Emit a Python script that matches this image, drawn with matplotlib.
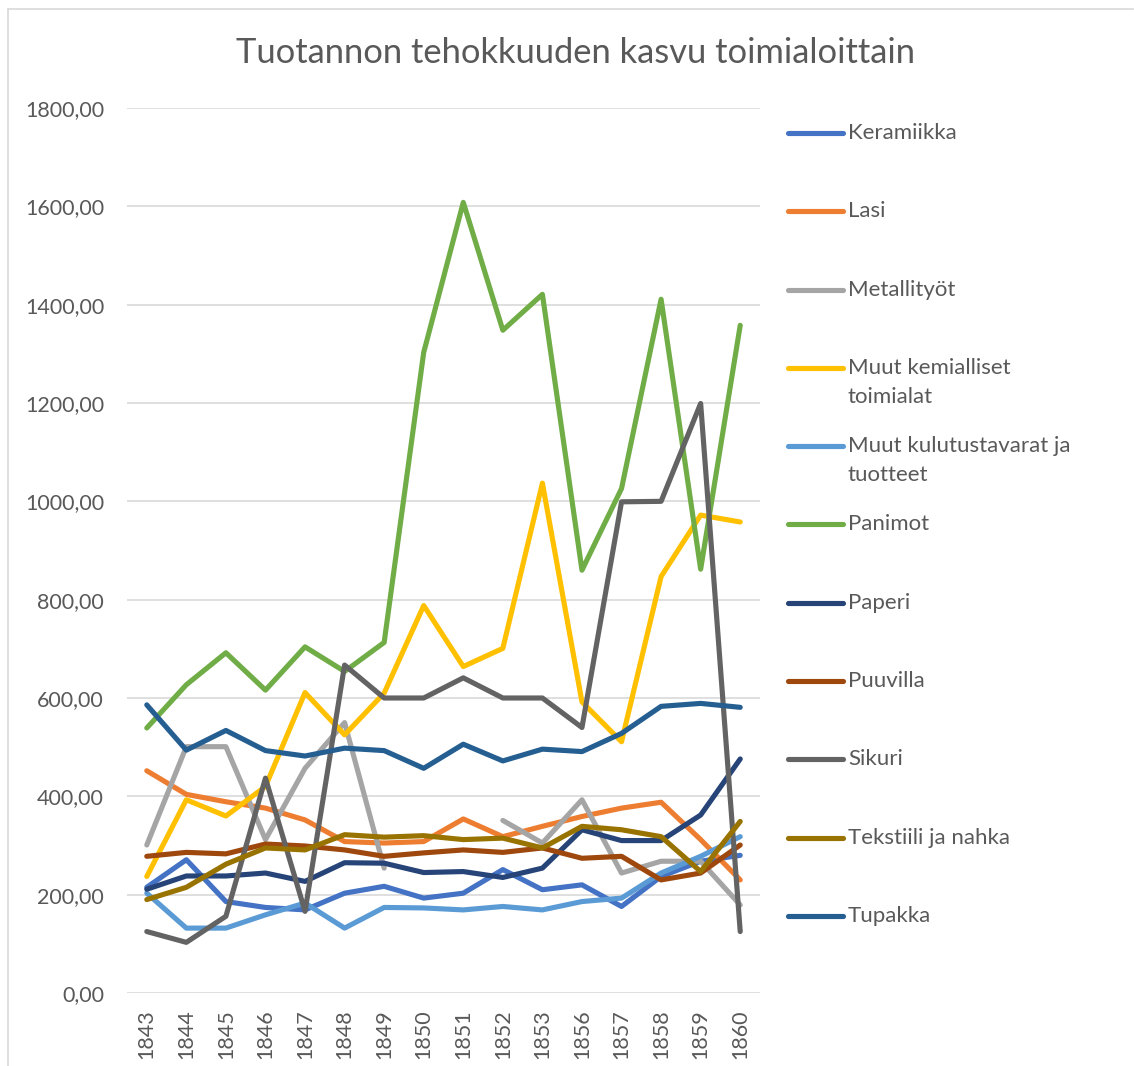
import numpy as np
import matplotlib
matplotlib.use("Agg")
import matplotlib.pyplot as plt
from matplotlib.lines import Line2D

plt.rcParams['font.family'] = ['Lato', 'DejaVu Sans']

years = ["1843", "1844", "1845", "1846", "1847", "1848", "1849", "1850",
         "1851", "1852", "1853", "1856", "1857", "1858", "1859", "1860"]

keramiikka = [215, 271, 186, 174, 169, 203, 217, 193, 203, 251, 210, 220, 176, 237, 268, 280]
lasi = [452, 404, 389, 376, 352, 308, 305, 308, 354, 318, 339, 359, 376, 388, 312, 230]
metallityot = [301, 501, 501, 312, 457, 550, 254, np.nan, np.nan, 351, 305, 393, 244, 268, 268, 179]
muut_kemialliset = [237, 393, 360, 420, 611, 525, 610, 788, 664, 701, 1037, 592, 511, 847, 972, 958]
muut_kulutustavarat = [203, 132, 132, 159, 183, 132, 174, 173, 169, 176, 169, 186, 193, 244, 278, 318]
panimot = [539, 627, 692, 616, 704, 654, 713, 1303, 1608, 1348, 1421, 860, 1026, 1411, 862, 1358]
paperi = [211, 238, 238, 244, 227, 265, 264, 245, 247, 235, 254, 332, 310, 310, 362, 476]
puuvilla = [278, 286, 283, 303, 299, 291, 278, 285, 291, 286, 295, 274, 278, 230, 244, 301]
sikuri = [125, 103, 156, 437, 166, 667, 600, 600, 641, 600, 600, 540, 999, 1000, 1199, 125]
tekstiili = [190, 215, 262, 295, 291, 322, 317, 320, 312, 315, 295, 339, 332, 318, 247, 349]
tupakka = [586, 494, 534, 493, 482, 498, 493, 457, 506, 472, 496, 491, 528, 583, 589, 581]

series_names = ["Keramiikka", "Lasi", "Metallityöt", "Muut kemialliset\ntoimialat",
                "Muut kulutustavarat ja\ntuotteet", "Panimot", "Paperi", "Puuvilla",
                "Sikuri", "Tekstiili ja nahka", "Tupakka"]
series_values = [keramiikka, lasi, metallityot, muut_kemialliset, muut_kulutustavarat,
                 panimot, paperi, puuvilla, sikuri, tekstiili, tupakka]
colors = ["#4472C4", "#ED7D31", "#A5A5A5", "#FFC000", "#5B9BD5", "#70AD47",
          "#264478", "#9E480E", "#636363", "#997300", "#255E91"]
yticks = [0, 200, 400, 600, 800, 1000, 1200, 1400, 1600, 1800]

W, H = 1134, 1066
fig = plt.figure(figsize=(W / 100, H / 100), dpi=100)
ax = fig.add_axes([127 / W, 1 - 993 / H, (760 - 127) / W, (993 - 108) / H])

txt = "#595959"
x = np.arange(len(years))
for name, vals, c in zip(series_names, series_values, colors):
    ax.plot(x, np.array(vals, dtype=float), color=c, lw=3.7,
            solid_capstyle="round", solid_joinstyle="round", zorder=3)

ax.set_xlim(-0.5, len(years) - 0.5)
ax.set_ylim(0, 1800)
ax.set_yticks(yticks)
ax.set_yticklabels([f"{v:.2f}".replace(".", ",") for v in yticks])
ax.set_xticks(x)
ax.set_xticklabels(years, rotation=90)
ax.tick_params(axis="y", length=0, pad=16.5, labelsize=15.5, labelcolor=txt)
ax.tick_params(axis="x", length=0, pad=12, labelsize=15.5, labelcolor=txt)
ax.grid(axis="y", color="#D9D9D9", lw=1.2, zorder=0)
for s in ax.spines.values():
    s.set_visible(False)

fig.text(575 / W, 1 - 53 / H, "Tuotannon tehokkuuden kasvu toimialoittain",
         ha="center", va="center", fontsize=24.8, color=txt)

# legend (manual, equal slots like Excel)
y0 = 133
step = 78.3
for i, (name, c) in enumerate(zip(series_names, colors)):
    yy = 1 - (y0 + i * step) / H
    fig.add_artist(Line2D([788 / W, 843 / W], [yy, yy], color=c, lw=3.7,
                          solid_capstyle="round", transform=fig.transFigure))
    for j, ln in enumerate(name.split("\n")):
        fig.text(848 / W, 1 - (y0 + i * step + j * 29) / H, ln, ha="left",
                 va="center", fontsize=16, color=txt)

# chart border
fig.add_artist(Line2D([8 / W, 1133 / W], [1 - 9 / H, 1 - 9 / H], color="#D9D9D9",
                      lw=1.2, transform=fig.transFigure))
fig.add_artist(Line2D([8 / W, 8 / W], [1 - 9 / H, 0], color="#D9D9D9",
                      lw=1.2, transform=fig.transFigure))

fig.savefig("out.png", dpi=100, facecolor="white")
